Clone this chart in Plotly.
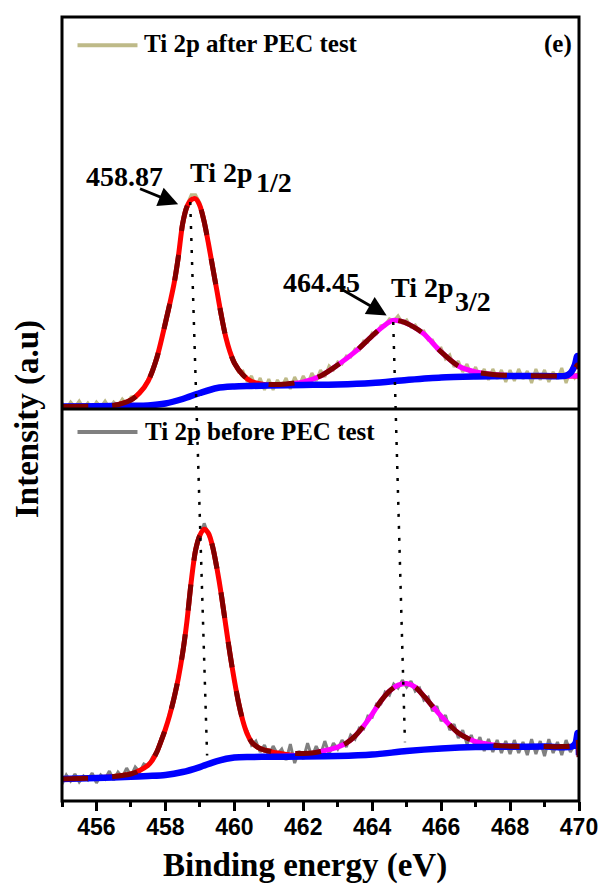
import numpy as np
import plotly.graph_objects as go

# ---------------- data ----------------
# energy grid of the raw spectra (eV)
raw_energy = np.round(np.arange(455.0, 470.0001, 0.125), 3)

# raw spectrum, after PEC test (top panel, arbitrary units)
raw_after = [6, 0, 7, 2, 8, 1, 6, 0,
             7, 2, 8, 1, 7, 3, 10, 5,
             12, 13, 18, 22, 30, 38, 53, 67,
             88, 104, 127, 153, 187, 204, 214, 214,
             206, 188, 167, 141, 119, 94, 74, 56,
             49, 37, 38, 27, 33, 21, 31, 19,
             30, 19, 29, 22, 31, 20, 32, 23,
             33, 25, 36, 28, 39, 32, 43, 39,
             47, 45, 53, 52, 60, 59, 68, 67,
             76, 75, 83, 84, 90, 88, 93, 86,
             89, 82, 84, 77, 78, 69, 69, 60,
             61, 50, 54, 42, 48, 37, 45, 33,
             42, 31, 40, 29, 40, 30, 39, 27,
             39, 28, 40, 30, 38, 26, 40, 29,
             39, 27, 37, 30, 41, 26, 38, 31,
             37]

# raw spectrum, before PEC test (bottom panel)
raw_before = [17, 26, 20, 27, 19, 25, 21, 28,
              18, 26, 22, 30, 21, 29, 24, 33,
              25, 34, 29, 37, 35, 44, 50, 63,
              70, 89, 101, 126, 146, 183, 218, 254,
              265, 278, 266, 257, 230, 209, 174, 150,
              119, 100, 78, 70, 56, 60, 49, 56,
              45, 55, 47, 52, 41, 57, 38, 50,
              42, 58, 44, 55, 46, 60, 47, 58,
              52, 61, 54, 66, 62, 73, 72, 85,
              84, 97, 97, 109, 106, 117, 113, 121,
              114, 120, 110, 113, 101, 104, 90, 95,
              80, 86, 71, 77, 63, 71, 57, 66,
              53, 64, 50, 62, 49, 61, 48, 60,
              47, 61, 48, 59, 46, 62, 47, 60,
              45, 62, 48, 59, 46, 61, 49, 58,
              52]

# ---- top panel fit curves ----
top_env_x = [455, 456, 456.5, 457, 457.25, 457.5, 457.75, 458, 458.25, 458.375, 458.5,
             458.625, 458.75, 458.875, 459, 459.125, 459.25, 459.375, 459.5, 459.625,
             459.75, 459.875, 460, 460.25, 460.5, 461, 461.5, 462, 462.5, 463, 463.5,
             464, 464.3, 464.6, 464.9, 465.2, 465.5, 466, 466.5, 467, 467.5, 468, 469,
             469.6, 469.8, 469.95, 470]
top_env_y = [2.5, 2.8, 3.5, 9, 16, 28, 51, 86, 125, 152, 185,
             202, 209, 210, 203, 187, 165, 141, 117, 93,
             72, 57, 46, 34, 27.5, 24.5, 25, 27.5, 33, 44, 57,
             73, 82, 88.5, 87, 82, 75, 57, 43, 37, 34.5, 33.5, 33,
             33, 34, 44, 40]

top_p1_x = [455, 456, 456.5, 457, 457.25, 457.5, 457.75, 458, 458.25, 458.375, 458.5,
            458.625, 458.75, 458.875, 459, 459.125, 459.25, 459.375, 459.5, 459.625,
            459.75, 459.875, 460, 460.25, 460.5, 461, 461.5, 462, 463, 464, 465, 466,
            467, 468, 469, 470]
top_p1_y = [2.5, 2.8, 3.5, 9, 16, 28, 51, 86, 125, 152, 185,
            202, 209, 210, 203, 187, 165, 141, 117, 93,
            72, 57, 46, 34, 27.5, 24, 23.8, 24, 24.5, 26, 29, 31.5,
            32.5, 33, 33, 33]

top_p2_x = [460, 460.5, 461, 461.5, 462, 462.5, 463, 463.5, 464, 464.3, 464.6, 464.9,
            465.2, 465.5, 466, 466.5, 467, 467.5, 468, 469, 470]
top_p2_y = [22.5, 23, 23.6, 24.5, 27, 33, 44, 57, 73, 82, 88.5, 87,
            82, 75, 57, 43, 37, 34.5, 33.5, 33, 33]

top_bg_x = [455, 456, 457, 457.5, 458, 458.5, 459, 459.5, 460, 460.5, 461, 462, 463,
            464, 465, 466, 467, 468, 469, 469.6, 469.75, 469.88, 469.95, 470]
top_bg_y = [2.5, 2.8, 3.2, 3.6, 5.5, 10, 16, 21, 22.5, 23, 23.5, 24, 24.5,
            26, 29, 31.5, 32.5, 33, 33, 33, 36, 44, 53, 46]

# ---- bottom panel fit curves ----
bot_env_x = [455, 455.5, 456, 456.25, 456.5, 456.75, 457, 457.125, 457.25, 457.375,
             457.5, 457.625, 457.75, 457.875, 458, 458.125, 458.25, 458.375, 458.5,
             458.625, 458.75, 458.875, 459, 459.125, 459.25, 459.375, 459.5, 459.625,
             459.75, 459.875, 460, 460.125, 460.25, 460.375, 460.5, 460.625, 460.75,
             460.875, 461, 461.25, 461.5, 461.75, 462, 462.25, 462.5, 462.75, 463,
             463.25, 463.5, 463.75, 464, 464.25, 464.5, 464.75, 465, 465.25, 465.5,
             465.75, 466, 466.25, 466.5, 466.75, 467, 467.25, 467.5, 467.75, 468,
             468.5, 469, 469.5, 469.85, 469.95, 470]
bot_env_y = [22, 22.5, 23, 23.8, 24.5, 25.5, 27, 28.5, 30.5, 33,
             36, 41, 49, 60, 72, 86, 103, 123, 148,
             180, 220, 251, 266, 272, 268, 254, 232, 206,
             176, 147, 121, 98, 80, 67, 59, 55, 52.5,
             51, 50, 48.5, 48, 47.5, 47.5, 48, 49.5, 51.5, 54,
             58, 65, 75, 87, 100, 110, 116, 117.7, 114, 105,
             95, 85, 76, 68, 63, 59.5, 57.5, 56, 55.2, 54.7,
             54.5, 54.5, 54.5, 56, 68, 44]

bot_p1_x = [455, 455.5, 456, 456.25, 456.5, 456.75, 457, 457.125, 457.25, 457.375,
            457.5, 457.625, 457.75, 457.875, 458, 458.125, 458.25, 458.375, 458.5,
            458.625, 458.75, 458.875, 459, 459.125, 459.25, 459.375, 459.5, 459.625,
            459.75, 459.875, 460, 460.125, 460.25, 460.375, 460.5, 460.625, 460.75,
            460.875, 461, 461.25, 461.5, 461.75, 462, 463, 464, 465, 466, 467, 468,
            469, 470]
bot_p1_y = [22, 22.5, 23, 23.8, 24.5, 25.5, 27, 28.5, 30.5, 33,
            36, 41, 49, 60, 72, 86, 103, 123, 148,
            180, 220, 251, 266, 272, 268, 254, 232, 206,
            176, 147, 121, 98, 80, 67, 59, 55, 52.5,
            51, 50, 48, 46.5, 45.5, 45, 45.2, 46.5, 50, 52.5, 54, 54.3,
            54.5, 54.5]

bot_p2_x = [460, 460.5, 461, 461.5, 462, 462.25, 462.5, 462.75, 463, 463.25, 463.5,
            463.75, 464, 464.25, 464.5, 464.75, 465, 465.25, 465.5, 465.75, 466,
            466.25, 466.5, 466.75, 467, 467.25, 467.5, 467.75, 468, 468.5, 469, 470]
bot_p2_y = [43.5, 44, 44.5, 45, 46, 47.5, 49.5, 51.5, 54, 58, 65,
            75, 87, 100, 110, 116, 117.7, 114, 105, 95, 85,
            76, 68, 63, 59.5, 57.5, 56, 55.2, 54.7, 54.5, 54.5, 54.5]

bot_bg_x = [455, 456, 457, 457.5, 458, 458.5, 459, 459.5, 460, 460.5, 461, 462, 463,
            464, 465, 466, 467, 468, 469, 469.8, 469.9, 469.96, 470]
bot_bg_y = [22, 23, 24.3, 25, 26, 29, 34, 40, 43.5, 44, 44.3, 44.5, 45,
            46.5, 50, 52.5, 54, 54.3, 54.5, 54.5, 58, 68, 46]

x_ticks = [456, 458, 460, 462, 464, 466, 468, 470]
legend_after = "Ti 2p after PEC test"
legend_before = "Ti 2p before PEC test"
peak_labels = ["458.87", "464.45"]

# ---------------- styling ----------------
KHAKI = "rgb(190,186,136)"
GRAY = "rgb(128,128,128)"
RED = "#FF0000"
MAGENTA = "#FF00FF"
BLUE = "#0000FF"
DARKRED = "#800000"
SERIF = "Liberation Serif"
SANS = "Liberation Sans"

fig = go.Figure()


def add(x, y, color, width, yaxis, dash=None, shape="spline"):
    line = dict(color=color, width=width, shape=shape)
    if dash:
        line["dash"] = dash
    if shape == "spline":
        line["smoothing"] = 0.8
    fig.add_trace(go.Scatter(x=x, y=y, mode="lines", line=line, xaxis="x",
                             yaxis=yaxis, showlegend=False, hoverinfo="skip"))


DASH = "26px,24px"
# top panel (y2)
add(raw_energy, raw_after, KHAKI, 3, "y2", shape="linear")
add(top_p1_x, top_p1_y, RED, 5, "y2")
add(top_p2_x, top_p2_y, MAGENTA, 5, "y2")
add(top_bg_x, top_bg_y, BLUE, 6.5, "y2")
add(top_env_x, top_env_y, DARKRED, 5, "y2", dash=DASH)
# bottom panel (y)
add(raw_energy, raw_before, GRAY, 3, "y", shape="linear")
add(bot_p1_x, bot_p1_y, RED, 5, "y")
add(bot_p2_x, bot_p2_y, MAGENTA, 5, "y")
add(bot_bg_x, bot_bg_y, BLUE, 6.5, "y")
add(bot_env_x, bot_env_y, DARKRED, 5, "y", dash=DASH)

fig.update_layout(
    width=605, height=885,
    margin=dict(l=61.5, r=26, t=17, b=84, autoexpand=False),
    plot_bgcolor="white", paper_bgcolor="white",
    xaxis=dict(range=[455, 470], domain=[0, 1], anchor="y", showline=False,
               automargin=False,
               tickmode="array", tickvals=x_ticks, ticktext=[str(v) for v in x_ticks],
               ticks="outside", ticklen=9, tickwidth=3, tickcolor="black",
               ticklabelstandoff=-4,
               tickfont=dict(family=SANS, size=23, color="black", weight="bold"),
               showgrid=False, zeroline=False,
               minor=dict(ticks="outside", tickmode="linear", tick0=455, dtick=1,
                          ticklen=5, tickwidth=2.5, tickcolor="black", showgrid=False)),
    yaxis=dict(domain=[0, 0.5], range=[0, 392.5], showticklabels=False, showgrid=False,
               zeroline=False, ticks="", automargin=False),
    yaxis2=dict(domain=[0.5, 1], range=[0, 391.5], showticklabels=False, showgrid=False,
                zeroline=False, ticks="", anchor="x", automargin=False),
)

shapes = [
    dict(type="rect", xref="paper", yref="paper", x0=0, x1=1, y0=0, y1=1,
         line=dict(color="black", width=3)),
    dict(type="line", xref="paper", yref="paper", x0=0, x1=1, y0=0.5, y1=0.5,
         line=dict(color="black", width=3)),
    # dotted guide lines through the peaks
    dict(type="line", xref="x", yref="paper", x0=458.72, y0=0.764, x1=459.21, y1=0.058,
         line=dict(color="black", width=2.5, dash="3px,9px")),
    dict(type="line", xref="x", yref="paper", x0=464.61, y0=0.611, x1=464.95, y1=0.075,
         line=dict(color="black", width=2.5, dash="3px,9px")),
    # legend samples
    dict(type="line", xref="paper", yref="paper", x0=0.030, x1=0.146, y0=0.964, y1=0.964,
         line=dict(color=KHAKI, width=4)),
    dict(type="line", xref="paper", yref="paper", x0=0.030, x1=0.146, y0=0.4707, y1=0.4707,
         line=dict(color=GRAY, width=4)),
]
fig.update_layout(shapes=shapes)

def tfont(size):
    return dict(family=SERIF, size=size, color="black", weight="bold")

ann = [
    # legends
    dict(xref="paper", yref="paper", x=0.1556, y=0.966, text=legend_after,
         xanchor="left", yanchor="middle", showarrow=False, font=tfont(25)),
    dict(xref="paper", yref="paper", x=0.1575, y=0.4707, text=legend_before,
         xanchor="left", yanchor="middle", showarrow=False, font=tfont(25)),
    dict(xref="paper", yref="paper", x=0.959, y=0.966, text="(e)",
         xanchor="center", yanchor="middle", showarrow=False, font=tfont(25)),
    # peak labels
    dict(xref="x", yref="y2", x=456.81, y=232.5, text=peak_labels[0],
         xanchor="center", yanchor="middle", showarrow=False, font=tfont(28)),
    dict(xref="x", yref="y2", x=458.65, y=236.5, text="Ti 2p",
         xanchor="left", yanchor="middle", showarrow=False, font=tfont(28)),
    dict(xref="x", yref="y2", x=460.58, y=226, text="1/2",
         xanchor="left", yanchor="middle", showarrow=False, font=tfont(28)),
    dict(xref="x", yref="y2", x=462.54, y=126.5, text=peak_labels[1],
         xanchor="center", yanchor="middle", showarrow=False, font=tfont(28)),
    dict(xref="x", yref="y2", x=464.48, y=121, text="Ti 2p",
         xanchor="left", yanchor="middle", showarrow=False, font=tfont(28)),
    dict(xref="x", yref="y2", x=466.34, y=107, text="3/2",
         xanchor="left", yanchor="middle", showarrow=False, font=tfont(28)),
    # arrows
    dict(xref="x", yref="y2", x=458.37, y=204.5, axref="x", ayref="y2",
         ax=457.22, ay=220.5, text="", showarrow=True, arrowhead=2, arrowsize=1.4,
         arrowwidth=2.8, arrowcolor="black", standoff=0),
    dict(xref="x", yref="y2", x=464.42, y=93.5, axref="x", ayref="y2",
         ax=463.07, ay=120.5, text="", showarrow=True, arrowhead=2, arrowsize=1.4,
         arrowwidth=2.8, arrowcolor="black", standoff=0),
    # axis titles
    dict(xref="paper", yref="paper", x=0.4705, y=-0.082, text="Binding energy (eV)",
         xanchor="center", yanchor="middle", showarrow=False, font=tfont(33)),
    dict(xref="paper", yref="paper", x=-0.0667, y=0.4866, text="Intensity (a.u)",
         xanchor="center", yanchor="middle", showarrow=False, font=tfont(33),
         textangle=-90),
]
fig.update_layout(annotations=ann)

fig.write_html("out.html", config={"displayModeBar": False},
               post_script="document.body.style.margin='0';document.body.style.overflow='hidden';")
